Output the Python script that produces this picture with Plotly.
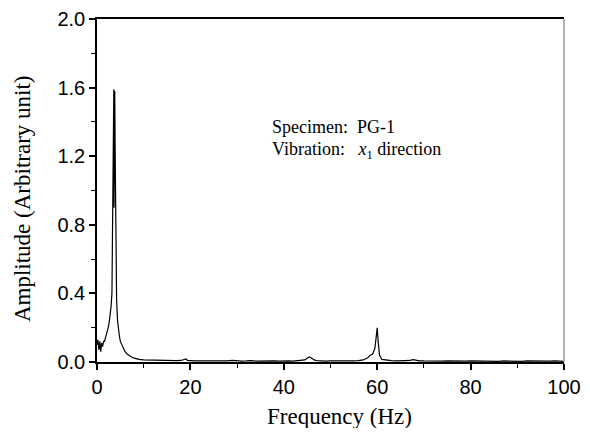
import plotly.graph_objects as go

# Frequency (Hz) and amplitude (arbitrary unit)
freq = [0.0, 0.2, 0.4, 0.6, 0.8, 1.0, 1.2, 1.4, 1.6, 1.8, 2.0, 2.2, 2.4, 2.6, 2.8,
        3.0, 3.2, 3.4, 3.5, 3.6, 3.65, 3.7, 3.75, 3.8, 3.9, 4.0, 4.2, 4.4, 4.6, 4.8,
        5.0, 5.3, 5.6, 6.0, 6.5, 7.0, 7.5, 8.0, 8.5, 9.0, 10.0, 11.0, 12.0, 13.0,
        14.0, 15.0, 16.0, 17.0, 18.0, 18.6, 19.0, 19.4, 20.0, 21.0, 22.0, 23.0,
        24.0, 25.0, 26.0, 27.0, 28.0, 29.0, 30.0, 31.0, 32.0, 33.0, 34.0, 35.0,
        36.0, 37.0, 38.0, 39.0, 40.0, 41.0, 42.0, 43.0, 44.0, 44.5, 45.0, 45.5,
        46.0, 46.5, 47.0, 48.0, 49.0, 50.0, 51.0, 52.0, 53.0, 54.0, 55.0, 56.0,
        57.0, 58.0, 58.5, 59.0, 59.5, 59.8, 60.0, 60.2, 60.5, 61.0, 62.0, 63.0,
        64.0, 65.0, 66.0, 67.0, 67.6, 68.0, 68.5, 69.0, 70.0, 71.0, 72.0, 73.0,
        74.0, 75.0, 76.0, 77.0, 78.0, 79.0, 80.0, 81.0, 82.0, 83.0, 84.0, 85.0,
        86.0, 87.0, 88.0, 89.0, 90.0, 91.0, 92.0, 93.0, 94.0, 95.0, 96.0, 97.0,
        98.0, 99.0, 100.0]
amp = [0.10, 0.13, 0.07, 0.12, 0.06, 0.11, 0.09, 0.12, 0.12, 0.14, 0.15, 0.17, 0.20, 0.23, 0.27,
       0.32, 0.40, 0.95, 1.30, 1.59, 0.90, 1.50, 0.95, 1.58, 1.20, 0.62, 0.36, 0.24, 0.18, 0.15,
       0.12, 0.10, 0.08, 0.06, 0.045, 0.035, 0.028, 0.023, 0.018, 0.015, 0.012, 0.011, 0.010, 0.010,
       0.008, 0.009, 0.007, 0.008, 0.009, 0.012, 0.018, 0.010, 0.008, 0.007, 0.006, 0.008,
       0.007, 0.006, 0.005, 0.007, 0.006, 0.009, 0.006, 0.005, 0.006, 0.008, 0.005, 0.006,
       0.007, 0.005, 0.006, 0.005, 0.007, 0.006, 0.005, 0.007, 0.009, 0.012, 0.022, 0.030,
       0.022, 0.012, 0.008, 0.006, 0.005, 0.007, 0.006, 0.005, 0.006, 0.007, 0.006, 0.008,
       0.012, 0.025, 0.040, 0.045, 0.080, 0.150, 0.200, 0.120, 0.040, 0.015, 0.010, 0.008,
       0.007, 0.006, 0.008, 0.009, 0.014, 0.012, 0.008, 0.007, 0.006, 0.005, 0.006, 0.007,
       0.005, 0.006, 0.005, 0.006, 0.007, 0.005, 0.006, 0.005, 0.006, 0.005, 0.006, 0.005,
       0.004, 0.006, 0.005, 0.006, 0.005, 0.004, 0.006, 0.005, 0.006, 0.005, 0.004, 0.005,
       0.006, 0.005, 0.004]

x_ticks = [0, 20, 40, 60, 80, 100]
y_ticks = [0.0, 0.4, 0.8, 1.2, 1.6, 2.0]
y_tick_labels = ["0.0", "0.4", "0.8", "1.2", "1.6", "2.0"]

fig = go.Figure()
fig.add_trace(go.Scatter(x=freq, y=amp, mode="lines",
                         line=dict(color="black", width=1.2), showlegend=False))

tick_font = dict(family="Liberation Sans, Arial, sans-serif", size=20, color="black")
serif = "Liberation Serif, Times New Roman, serif"

fig.update_layout(
    template="none",
    width=582, height=420,
    margin=dict(l=89, r=26, t=11, b=66, autoexpand=False),
    paper_bgcolor="white", plot_bgcolor="white",
    xaxis=dict(range=[0, 100], tickvals=x_ticks, ticks="outside", ticklen=6, tickwidth=1.5,
               tickcolor="black", showline=True, linecolor="black", linewidth=1.5,
               mirror=True, showgrid=False, zeroline=False, tickfont=tick_font,
               automargin=False, ticklabeloverflow="allow",
               minor=dict(dtick=10, ticks="outside", ticklen=4, tickwidth=1.2, tickcolor="black")),
    yaxis=dict(range=[0, 2.0], tickvals=y_ticks, ticktext=y_tick_labels, ticks="outside",
               ticklen=6, tickwidth=1.5, tickcolor="black", showline=True, linecolor="black",
               linewidth=1.5, showgrid=False, zeroline=False, tickfont=tick_font,
               automargin=False, ticklabeloverflow="allow",
               minor=dict(dtick=0.2, ticks="outside", ticklen=4, tickwidth=1.2, tickcolor="black")),
)

# right border (grey in the reference)
fig.add_shape(type="line", xref="paper", yref="paper", x0=1, x1=1, y0=0, y1=1,
              line=dict(color="#9a9a9a", width=1.5))

fig.add_annotation(text="Frequency (Hz)", xref="paper", yref="paper", x=0.52, y=-0.16,
                   xanchor="center", yanchor="middle", showarrow=False,
                   font=dict(family=serif, size=23, color="black"))
fig.add_annotation(text="Amplitude (Arbitrary unit)", xref="paper", yref="paper",
                   x=-0.1606, y=0.478, xanchor="center", yanchor="middle", textangle=-90,
                   showarrow=False, font=dict(family=serif, size=23, color="black"))
fig.add_annotation(text="Specimen:&nbsp; PG-1", xref="paper", yref="paper",
                   x=0.370, y=0.685, xanchor="left", yanchor="middle", showarrow=False,
                   font=dict(family=serif, size=18, color="black"))
fig.add_annotation(text="Vibration:&nbsp;&nbsp; <i>x</i><sub>1</sub> direction", xref="paper",
                   yref="paper", x=0.370, y=0.618, xanchor="left", yanchor="middle",
                   showarrow=False, font=dict(family=serif, size=18, color="black"))

fig.write_html("out.html")
